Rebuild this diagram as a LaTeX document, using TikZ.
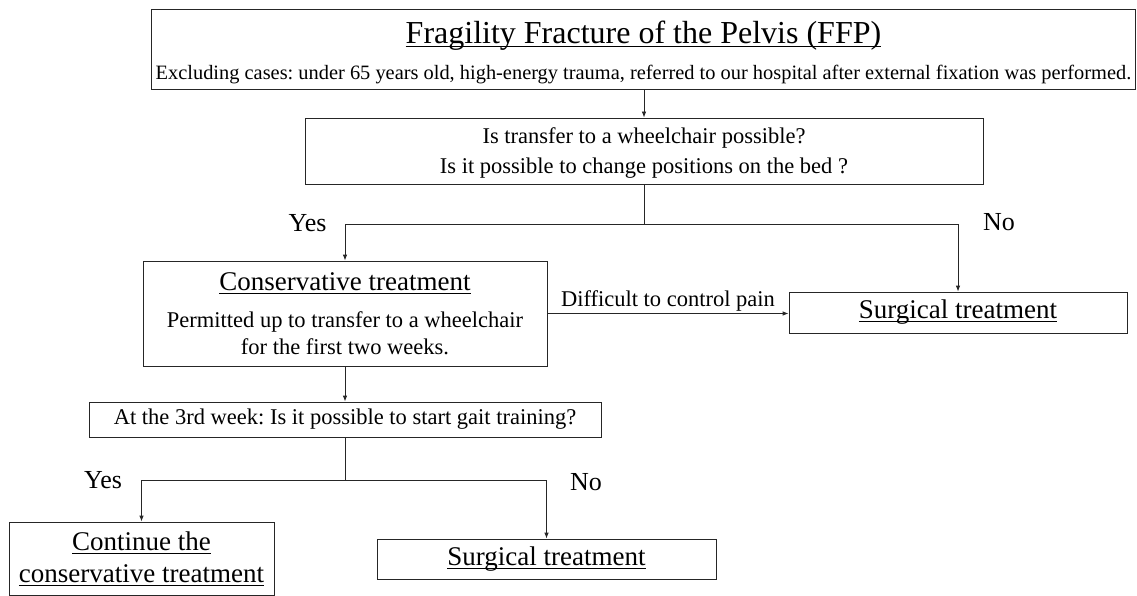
\documentclass[tikz,border=0pt]{standalone}
\usepackage{fontspec}
\setmainfont{Liberation Serif}
\usetikzlibrary{arrows.meta}
\frenchspacing
\newsavebox\myulbox
\newcommand\myul[1]{\sbox\myulbox{#1}\rlap{\rule[-3.5pt]{\wd\myulbox}{1pt}}\usebox\myulbox}
\newcommand\fbody{\fontsize{22.5}{27}\selectfont\frenchspacing}
\newcommand\fsub{\fontsize{20.4}{27}\selectfont\frenchspacing}
\newcommand\fhead{\fontsize{27}{32}\selectfont\frenchspacing}
\newcommand\ftitle{\fontsize{32}{36}\selectfont\frenchspacing}
\newcommand\fyn{\fontsize{26}{30}\selectfont}
\tikzset{
  fbox/.style={draw=black!85, line width=0.8pt, inner sep=0pt, align=center, font=\fbody},
  arr/.style={draw=black!85, line width=0.8pt, -{Latex[length=6pt,width=4.5pt]}},
  ln/.style={draw=black!85, line width=0.8pt},
  lbl/.style={inner sep=0pt, font=\fyn},
}
\begin{document}
\begin{tikzpicture}[x=1pt,y=-1pt]
\useasboundingbox (0,0) rectangle (1137,596);
\node[fbox, minimum width=984, minimum height=80] (top) at (643.5,49)
  {{\ftitle\rule{0pt}{30pt}\myul{Fragility Fracture of the Pelvis (FFP)}}\\[9pt]{\fsub Excluding cases: under 65 years old, high-energy trauma, referred to our hospital after external fixation was performed.}};
\node[fbox, minimum width=678, minimum height=66] (q1) at (644,151)
  {\rule{0pt}{20pt}Is transfer to a wheelchair possible?\\[3pt]Is it possible to change positions on the bed ?};
\node[fbox, minimum width=404, minimum height=105] (cons) at (345,313.5)
  {{\fhead\myul{Conservative treatment}}\\[10pt]Permitted up to transfer to a wheelchair\\for the first two weeks.};
\node[fbox, minimum width=338, minimum height=41, font=\fhead] (surg1) at (958,312.5)
  {\myul{Surgical treatment}};
\node[fbox, minimum width=512, minimum height=35] (q2) at (345,419.5)
  {At the 3rd week: Is it possible to start gait training?};
\node[fbox, minimum width=265, minimum height=73, font=\fhead] (cont) at (141.5,558.5)
  {\myul{Continue the}\\\myul{conservative treatment}};
\node[fbox, minimum width=339, minimum height=40, font=\fhead] (surg2) at (546.5,559)
  {\myul{Surgical treatment}};

\node[lbl] (yes1) at (307.5,223) {Yes};
\node[lbl] (no1) at (999,222) {No};
\node[lbl] (yes2) at (103,480) {Yes};
\node[lbl] (no2) at (586,482) {No};

\draw[arr] (q1.north |- top.south) -- (q1.north);
\draw[ln] (q1.south) -- ++(0,40) coordinate (j1);
\draw[arr] (j1) -| (cons.north);
\draw[arr] (j1) -| (surg1.north);
\draw[arr] (cons.east) -- node[above=2pt, inner sep=0pt, font=\fbody] (diff) {Difficult to control pain} (cons.east -| surg1.west);
\draw[arr] (cons.south) -- (q2.north);
\draw[ln] (q2.south) -- ++(0,43) coordinate (j2);
\draw[arr] (j2) -| (cont.north);
\draw[arr] (j2) -| (surg2.north);
\end{tikzpicture}
\end{document}
